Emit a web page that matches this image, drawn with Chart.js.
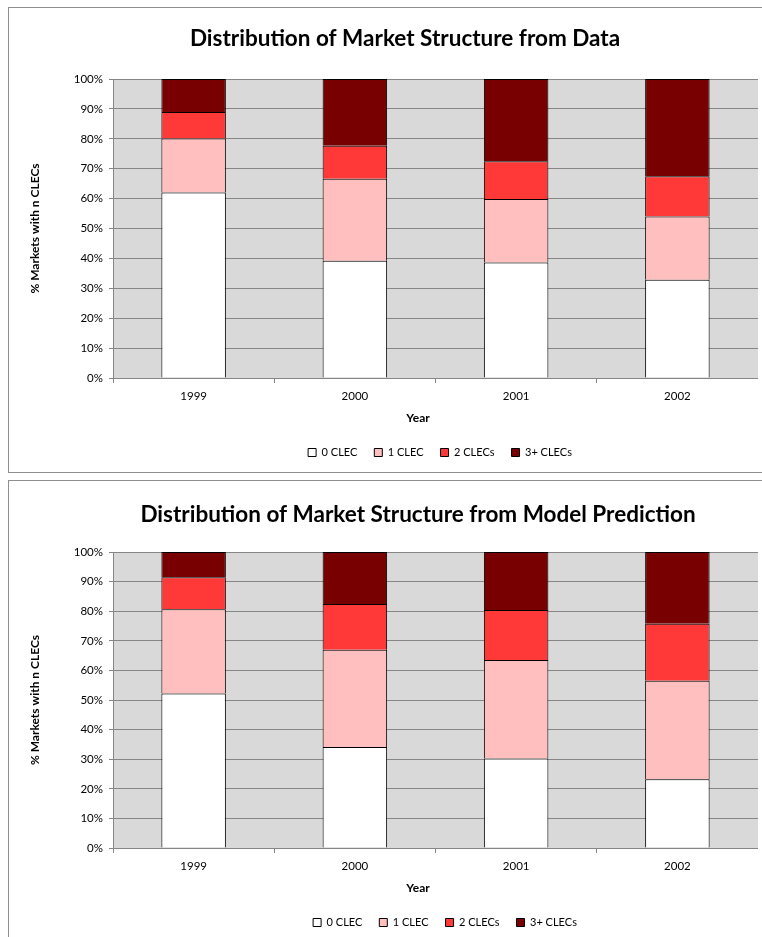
<!DOCTYPE html>
<html>
<head>
<meta charset="utf-8">
<script src="https://cdn.jsdelivr.net/npm/chart.js@4.4.1/dist/chart.umd.min.js"></script>
<style>
  body { margin: 0; background: #fff; overflow: hidden; width: 762px; height: 937px; position: relative; }
  .frame { position: absolute; left: 8px; width: 800px; border: 1px solid #8f8f8f; background: #fff; }
  #f1 { top: 7px; height: 464px; }
  #f2 { top: 480px; height: 470px; }
  .wrap { position: absolute; left: 9px; width: 749px; }
  #w1 { top: 8px; height: 463px; }
  #w2 { top: 481px; height: 460px; }
</style>
</head>
<body>
<div class="frame" id="f1"></div>
<div class="frame" id="f2"></div>
<div class="wrap" id="w1"><canvas id="dataChart"></canvas></div>
<div class="wrap" id="w2"><canvas id="modelChart"></canvas></div>
<script>
const years = ['1999', '2000', '2001', '2002'];
const seriesNames = ['0 CLEC', '1 CLEC', '2 CLECs', '3+ CLECs'];
const seriesColors = ['#ffffff', '#ffbfbf', '#ff3838', '#780000'];

// shares of markets (%)
const dataZero  = [62.0, 39.2, 38.6, 32.9];
const dataOne   = [18.1, 27.4, 21.3, 21.1];
const dataTwo   = [8.9, 11.1, 12.6, 13.5];
const dataThree = [11.0, 22.3, 27.5, 32.5];

const modelZero  = [52.2, 34.1, 30.2, 23.2];
const modelOne   = [28.5, 32.9, 33.3, 33.3];
const modelTwo   = [10.8, 15.4, 16.9, 19.3];
const modelThree = [8.5, 17.6, 19.6, 24.2];

const yMax = 100;
const yStep = 10;

Chart.defaults.font.family = 'Lato, "Open Sans", sans-serif';
Chart.defaults.color = '#000';

// grey plot area like the spreadsheet
const plotBg = {
    id: 'plotBg',
    beforeDraw(chart, args, opts) {
        const { ctx, chartArea: a } = chart;
        ctx.save();
        ctx.fillStyle = opts.color;
        ctx.fillRect(a.left, a.top, a.width, a.height);
        ctx.restore();
    }
};

// title / legend / axis title are not centred on the same line in the original
const nudge = {
    id: 'nudge',
    afterLayout(chart, args, opts) {
        if (chart.titleBlock) {
            chart.titleBlock.left += opts.title;
            chart.titleBlock.right += opts.title;
        }
        if (chart.legend) {
            chart.legend.left += opts.legend;
            chart.legend.right += opts.legend;
        }
        const x = chart.scales.x;
        if (x && !x.$nudged) {
            const drawTitle = x.drawTitle;
            x.drawTitle = function () {
                this.ctx.save();
                this.ctx.translate(opts.xTitle, 0);
                drawTitle.call(this);
                this.ctx.restore();
            };
            x.$nudged = true;
        }
    }
};

function makeChart(id, titleText, series, titlePad, shift) {
    const ctx = document.getElementById(id).getContext('2d');
    return new Chart(ctx, {
        type: 'bar',
        data: {
            labels: years,
            datasets: series.map((values, i) => ({
                label: seriesNames[i],
                data: values,
                backgroundColor: seriesColors[i],
                borderColor: '#000',
                borderWidth: 1,
                borderSkipped: 'start',
                categoryPercentage: 1,
                barPercentage: 0.4
            }))
        },
        options: {
            responsive: true,
            maintainAspectRatio: false,
            animation: false,
            layout: { padding: { left: 0, right: 0, top: 0, bottom: 3 } },
            scales: {
                x: {
                    stacked: true,
                    grid: { drawOnChartArea: false, tickLength: 5, color: '#868686' },
                    border: { color: '#868686' },
                    ticks: { padding: 6, font: { size: 11.5 } },
                    title: {
                        display: true,
                        text: 'Year',
                        font: { size: 12, weight: 'bold' },
                        padding: { top: 0, bottom: 5 }
                    },
                    afterFit(s) { s.height = 52; }
                },
                y: {
                    stacked: true,
                    min: 0,
                    max: yMax,
                    ticks: {
                        stepSize: yStep,
                        padding: 6,
                        font: { size: 11.5 },
                        callback: v => v + '%'
                    },
                    grid: { color: '#868686', tickLength: 4 },
                    border: { color: '#868686' },
                    title: {
                        display: true,
                        text: '% Markets with n CLECs',
                        font: { size: 12, weight: 'bold' },
                        padding: { top: 19, bottom: 0 }
                    },
                    afterFit(s) { s.width = 104; }
                }
            },
            plugins: {
                title: {
                    display: true,
                    text: titleText,
                    font: { size: 22.5, weight: 'bold' },
                    padding: titlePad
                },
                legend: {
                    position: 'bottom',
                    labels: { boxWidth: 8, boxHeight: 8, padding: 17, font: { size: 11 } }
                },
                tooltip: { enabled: false },
                plotBg: { color: '#d9d9d9' },
                nudge: shift
            }
        },
        plugins: [plotBg, nudge]
    });
}

makeChart('dataChart', 'Distribution of Market Structure from Data',
    [dataZero, dataOne, dataTwo, dataThree],
    { top: 17, bottom: 27 },
    { title: 21.5, legend: 56.5, xTitle: -17.5 });

makeChart('modelChart', 'Distribution of Market Structure from Model Prediction',
    [modelZero, modelOne, modelTwo, modelThree],
    { top: 20, bottom: 24 },
    { title: 34.5, legend: 61.5, xTitle: -17.5 });
</script>
</body>
</html>
